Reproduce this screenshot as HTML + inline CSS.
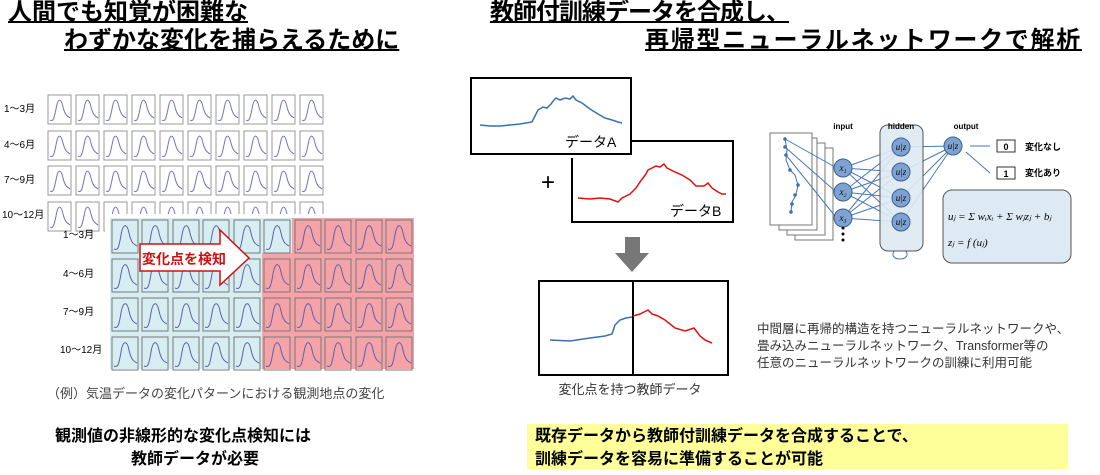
<!DOCTYPE html>
<html><head><meta charset="utf-8"><style>
html,body{margin:0;padding:0;background:#fff;}
body{width:1100px;height:475px;position:relative;overflow:hidden;font-family:"Liberation Sans","Noto Sans CJK JP",sans-serif;color:#000;}
.t{position:absolute;white-space:nowrap;}
.h{font-size:24px;font-weight:bold;text-decoration:underline;text-decoration-thickness:2px;line-height:26px;}
.b{font-size:16px;font-weight:bold;line-height:22px;}
</style></head><body>
<div class="t h" style="left:8px;top:0px;letter-spacing:0px;">人間でも知覚が困難な</div>
<div class="t h" style="left:64px;top:28px;">わずかな変化を捕らえるために</div>
<div class="t h" style="left:490px;top:0px;letter-spacing:-1px;">教師付訓練データを合成し、</div>
<div class="t h" style="left:645px;top:28px;letter-spacing:1.7px;">再帰型ニューラルネットワークで解析</div>

<svg width="1100" height="475" style="position:absolute;left:0;top:0" xmlns="http://www.w3.org/2000/svg">
<defs>
<g id="th"><rect x="0" y="0" width="23" height="29" fill="none" stroke="#999" stroke-width="1"/><path d="M2,25 C5,27 6,24 8,14 C10,2 13,3 15,12 C17,20 19,21 22,23" fill="none" stroke="#7070c8" stroke-width="1"/></g>
<g id="th2"><rect x="0" y="0" width="26" height="33" fill="none" stroke="#777" stroke-width="1"/><path d="M2,29 C6,31 7,27 9,15 C11,3 15,3 17,13 C19,22 21,24 25,26" fill="none" stroke="#6060a8" stroke-width="1"/></g>
</defs>
<g font-size="10" font-family="Liberation Sans,Noto Sans CJK JP,sans-serif">
<text x="4" y="112">1～3月</text><text x="4" y="148">4～6月</text><text x="4" y="183">7～9月</text><text x="2" y="218">10～12月</text>
</g>
<g>
<use href="#th" x="48" y="95"/><use href="#th" x="76" y="95"/><use href="#th" x="104" y="95"/><use href="#th" x="132" y="95"/><use href="#th" x="160" y="95"/><use href="#th" x="188" y="95"/><use href="#th" x="216" y="95"/><use href="#th" x="244" y="95"/><use href="#th" x="272" y="95"/><use href="#th" x="300" y="95"/>
<use href="#th" x="48" y="131"/><use href="#th" x="76" y="131"/><use href="#th" x="104" y="131"/><use href="#th" x="132" y="131"/><use href="#th" x="160" y="131"/><use href="#th" x="188" y="131"/><use href="#th" x="216" y="131"/><use href="#th" x="244" y="131"/><use href="#th" x="272" y="131"/><use href="#th" x="300" y="131"/>
<use href="#th" x="48" y="166"/><use href="#th" x="76" y="166"/><use href="#th" x="104" y="166"/><use href="#th" x="132" y="166"/><use href="#th" x="160" y="166"/><use href="#th" x="188" y="166"/><use href="#th" x="216" y="166"/><use href="#th" x="244" y="166"/><use href="#th" x="272" y="166"/><use href="#th" x="300" y="166"/>
<use href="#th" x="48" y="202"/><use href="#th" x="76" y="202"/><use href="#th" x="104" y="202"/><use href="#th" x="132" y="202"/><use href="#th" x="160" y="202"/><use href="#th" x="188" y="202"/><use href="#th" x="216" y="202"/><use href="#th" x="244" y="202"/><use href="#th" x="272" y="202"/><use href="#th" x="300" y="202"/>
</g>
<rect x="105" y="214" width="312" height="160" fill="#fff"/>
<path d="M110,218 H292 V253 H262 V369 H110 Z" fill="#d6eef2"/>
<path d="M292,218 H414 V369 H262 V253 H292 Z" fill="#f4a4a8"/>
<g font-size="10" font-family="Liberation Sans,Noto Sans CJK JP,sans-serif">
<text x="63" y="238">1～3月</text><text x="63" y="277">4～6月</text><text x="63" y="315">7～9月</text><text x="60" y="353">10～12月</text>
</g>
<g>
<use href="#th2" x="112" y="220"/><use href="#th2" x="142" y="220"/><use href="#th2" x="173" y="220"/><use href="#th2" x="203" y="220"/><use href="#th2" x="234" y="220"/><use href="#th2" x="264" y="220"/><use href="#th2" x="295" y="220"/><use href="#th2" x="325" y="220"/><use href="#th2" x="356" y="220"/><use href="#th2" x="386" y="220"/>
<use href="#th2" x="112" y="259"/><use href="#th2" x="142" y="259"/><use href="#th2" x="173" y="259"/><use href="#th2" x="203" y="259"/><use href="#th2" x="234" y="259"/><use href="#th2" x="264" y="259"/><use href="#th2" x="295" y="259"/><use href="#th2" x="325" y="259"/><use href="#th2" x="356" y="259"/><use href="#th2" x="386" y="259"/>
<use href="#th2" x="112" y="298"/><use href="#th2" x="142" y="298"/><use href="#th2" x="173" y="298"/><use href="#th2" x="203" y="298"/><use href="#th2" x="234" y="298"/><use href="#th2" x="264" y="298"/><use href="#th2" x="295" y="298"/><use href="#th2" x="325" y="298"/><use href="#th2" x="356" y="298"/><use href="#th2" x="386" y="298"/>
<use href="#th2" x="112" y="337"/><use href="#th2" x="142" y="337"/><use href="#th2" x="173" y="337"/><use href="#th2" x="203" y="337"/><use href="#th2" x="234" y="337"/><use href="#th2" x="264" y="337"/><use href="#th2" x="295" y="337"/><use href="#th2" x="325" y="337"/><use href="#th2" x="356" y="337"/><use href="#th2" x="386" y="337"/>
</g>
<path d="M140,244 H220 V230 L249,258 L220,285 V271 H140 Z" fill="#fff" stroke="#d01010" stroke-width="1.5"/>
<text x="184" y="264" text-anchor="middle" font-size="14" font-weight="bold" fill="#d01010" font-family="Liberation Sans,Noto Sans CJK JP,sans-serif">変化点を検知</text>
<text x="47" y="398" font-size="13" fill="#444" font-family="Liberation Sans,Noto Sans CJK JP,sans-serif">（例）気温データの変化パターンにおける観測地点の変化</text>

<rect x="471" y="78" width="160" height="76" fill="#fff" stroke="#000" stroke-width="2"/>
<path d="M480,125 L490,126 L500,126 L510,125 L520,124 L532,122 L535,116 L538,110 L543,107 L547,108 L551,104 L554,100 L556,98 L560,100 L565,98 L570,99 L573,96 L576,100 L582,103 L590,109 L598,114 L605,118 L612,120 L618,122 L622,123" fill="none" stroke="#3a70b0" stroke-width="1.5"/>
<text x="565" y="147" font-size="14" font-family="Liberation Sans,Noto Sans CJK JP,sans-serif">データA</text>
<path d="M631,141 H733 V222 H572 V158" fill="none" stroke="#000" stroke-width="2"/>
<path d="M578,198 L590,199 L600,198 L610,199 L618,202 L622,198 L630,194 L636,188 L640,182 L643,178 L646,174 L648,170 L652,168 L656,166 L660,167 L664,164 L667,168 L675,172 L682,175 L690,180 L696,186 L704,186 L708,183 L712,188 L718,192 L722,194 L726,194" fill="none" stroke="#e01010" stroke-width="1.5"/>
<text x="670" y="216" font-size="14" font-family="Liberation Sans,Noto Sans CJK JP,sans-serif">データB</text>
<text x="548" y="190" text-anchor="middle" font-size="24" font-family="Liberation Sans,sans-serif">+</text>
<path d="M625,237 H640 V253 H649 L632,272 L615,253 H625 Z" fill="#777"/>
<rect x="539" y="281" width="189" height="94" fill="#fff" stroke="#000" stroke-width="2"/>
<line x1="633" y1="281" x2="633" y2="375" stroke="#000" stroke-width="2"/>
<path d="M550,340 L570,341 L590,338 L605,336 L612,334 L615,325 L620,320 L626,318 L632,317" fill="none" stroke="#3a70b0" stroke-width="1.5"/>
<path d="M633,316 L640,314 L648,310 L652,314 L658,316 L665,320 L675,328 L685,331 L694,328 L700,336 L705,340 L712,343" fill="none" stroke="#e01010" stroke-width="1.5"/>
<text x="630" y="394" text-anchor="middle" font-size="13" fill="#333" font-family="Liberation Sans,Noto Sans CJK JP,sans-serif">変化点を持つ教師データ</text>

<g fill="#fff" stroke="#777" stroke-width="1">
<rect x="795" y="148" width="38" height="92"/><rect x="787" y="143" width="38" height="92"/><rect x="779" y="138" width="38" height="92"/><rect x="770" y="133" width="42" height="92"/>
</g>
<path d="M785,139 L787,150 L786,160 L790,170 L795,175 L798,185 L796,195 L792,202 L791,212" fill="none" stroke="#3a70b0" stroke-width="1"/>
<g fill="#3a70b0"><circle cx="785" cy="139" r="1.8"/><circle cx="785" cy="147" r="1.8"/><circle cx="786" cy="155" r="1.8"/><circle cx="790" cy="170" r="1.8"/><circle cx="798" cy="185" r="1.8"/><circle cx="795" cy="195" r="1.8"/><circle cx="792" cy="204" r="1.8"/><circle cx="791" cy="212" r="1.8"/></g>
<g stroke="#4a78b8" stroke-width="1" fill="none">
<line x1="785" y1="139" x2="835" y2="167"/><line x1="785" y1="147" x2="835" y2="191"/><line x1="786" y1="155" x2="835" y2="216"/>
<path d="M843,168 L901,147 M843,168 L901,172 M843,168 L901,198 M843,168 L901,222 M843,192 L901,147 M843,192 L901,172 M843,192 L901,198 M843,192 L901,222 M843,218 L901,147 M843,218 L901,172 M843,218 L901,198 M843,218 L901,222"/>
<path d="M901,147 L953,146 M901,172 L953,146 M901,198 L953,146 M901,222 L953,146"/>
<path d="M970,146 L990,146 M966,152 L990,173"/>
<path d="M895,250 C885,262 915,262 905,250"/>
</g>
<rect x="880" y="125" width="43" height="126" rx="8" fill="#dde9f3" stroke="#555" fill-opacity="0.9"/>
<g fill="#7ea3d2" stroke="#3a5f90" stroke-width="1">
<circle cx="843" cy="168" r="9"/><circle cx="843" cy="192" r="9"/><circle cx="843" cy="218" r="9"/>
<circle cx="901" cy="147" r="9"/><circle cx="901" cy="172" r="9"/><circle cx="901" cy="198" r="9"/><circle cx="901" cy="222" r="9"/>
<circle cx="953" cy="146" r="9"/>
</g>
<g font-size="9" font-style="italic" font-family="Liberation Serif,serif" text-anchor="middle">
<text x="843" y="171">x₁</text><text x="843" y="195">x₂</text><text x="843" y="221">x₃</text>
<text x="901" y="150">u|z</text><text x="901" y="175">u|z</text><text x="901" y="201">u|z</text><text x="901" y="225">u|z</text><text x="953" y="149">u|z</text>
</g>
<g fill="#000"><circle cx="843" cy="228" r="1.5"/><circle cx="843" cy="234" r="1.5"/><circle cx="843" cy="240" r="1.5"/></g>
<g font-size="8" font-weight="bold" font-family="Liberation Sans,sans-serif" text-anchor="middle">
<text x="843" y="129">input</text><text x="901" y="129">hidden</text><text x="966" y="129">output</text></g>
<rect x="997" y="140" width="18" height="12" fill="#fff" stroke="#333"/><text x="1006" y="150" text-anchor="middle" font-size="9" font-weight="bold" font-family="Liberation Sans,sans-serif">0</text>
<rect x="997" y="167" width="18" height="12" fill="#fff" stroke="#333"/><text x="1006" y="177" text-anchor="middle" font-size="9" font-weight="bold" font-family="Liberation Sans,sans-serif">1</text>
<g font-size="9" font-weight="bold" font-family="Liberation Sans,Noto Sans CJK JP,sans-serif"><text x="1025" y="150">変化なし</text><text x="1025" y="176">変化あり</text></g>
<rect x="943" y="190" width="128" height="73" rx="9" fill="#dde9f3" stroke="#555"/>
<g font-family="Liberation Serif,serif" font-size="11" font-style="italic">
<text x="948" y="220">uⱼ = Σ wᵢxᵢ + Σ wⱼzⱼ + bⱼ</text>
<text x="948" y="246">zⱼ = f (uⱼ)</text></g>
</svg>

<div class="t" style="left:757px;top:321px;font-size:12.5px;line-height:17px;color:#333;">中間層に再帰的構造を持つニューラルネットワークや、<br>畳み込みニューラルネットワーク、Transformer等の<br>任意のニューラルネットワークの訓練に利用可能</div>
<div class="t b" style="left:55px;top:426px;">観測値の非線形的な変化点検知には</div>
<div class="t b" style="left:131px;top:449px;">教師データが必要</div>
<div style="position:absolute;left:527px;top:424px;width:541px;height:45px;background:#ffff99;"></div>
<div class="t b" style="left:535px;top:426px;">既存データから教師付訓練データを合成することで、</div>
<div class="t b" style="left:535px;top:449px;">訓練データを容易に準備することが可能</div>
</body></html>
